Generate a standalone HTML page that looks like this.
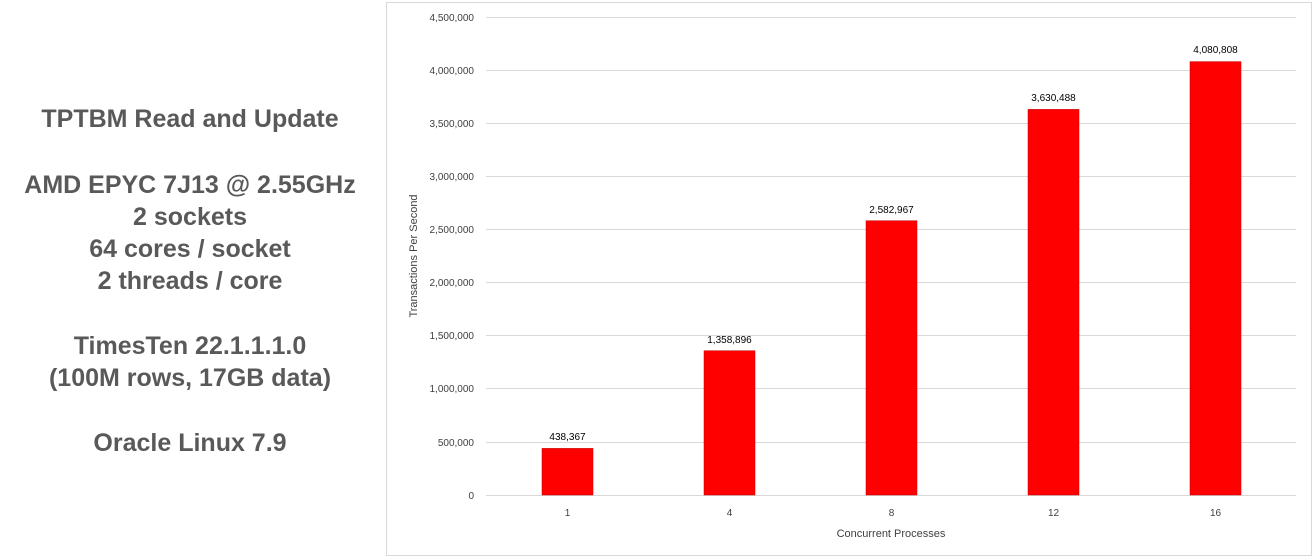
<!DOCTYPE html>
<html><head><style>
body{margin:0;width:1314px;height:558px;background:#fff;position:relative;overflow:hidden;font-family:"Liberation Sans",sans-serif}
.l{position:absolute;left:0;width:380px;text-align:center;font-weight:bold;color:#595959;font-size:25px;line-height:32px}
</style></head><body>
<div class="l" style="top:103px">TPTBM Read and Update</div>
<div class="l" style="top:169px">AMD EPYC 7J13 @ 2.55GHz<br>2 sockets<br>64 cores / socket<br>2 threads / core</div>
<div class="l" style="top:330px">TimesTen 22.1.1.1.0<br>(100M rows, 17GB data)</div>
<div class="l" style="top:427px">Oracle Linux 7.9</div>
<svg style="position:absolute;left:0;top:0" width="1314" height="558" font-family="Liberation Sans, sans-serif">
<rect x="386.5" y="2.5" width="925" height="553" fill="#fff" stroke="#d9d9d9"/>
<g stroke="#d9d9d9" stroke-width="1">
<line x1="486" x2="1296" y1="17.5" y2="17.5"/><line x1="486" x2="1296" y1="70.5" y2="70.5"/>
<line x1="486" x2="1296" y1="123.5" y2="123.5"/><line x1="486" x2="1296" y1="176.5" y2="176.5"/>
<line x1="486" x2="1296" y1="229.5" y2="229.5"/><line x1="486" x2="1296" y1="282.5" y2="282.5"/>
<line x1="486" x2="1296" y1="335.5" y2="335.5"/><line x1="486" x2="1296" y1="388.5" y2="388.5"/>
<line x1="486" x2="1296" y1="442.5" y2="442.5"/><line x1="486" x2="1296" y1="495.5" y2="495.5"/>
</g>
<g font-size="10" fill="#404040" text-anchor="end">
<text x="474" y="21">4,500,000</text><text x="474" y="74">4,000,000</text><text x="474" y="127">3,500,000</text>
<text x="474" y="180">3,000,000</text><text x="474" y="233">2,500,000</text><text x="474" y="286">2,000,000</text>
<text x="474" y="339">1,500,000</text><text x="474" y="392">1,000,000</text><text x="474" y="446">500,000</text>
<text x="474" y="499">0</text>
</g>
<g fill="#ff0000" stroke="#c00000" stroke-width="0.5">
<rect x="542" y="448.4" width="51" height="46.6"/>
<rect x="704" y="350.7" width="51" height="144.3"/>
<rect x="866" y="220.7" width="51" height="274.3"/>
<rect x="1028" y="109.4" width="51" height="385.6"/>
<rect x="1190" y="61.6" width="51" height="433.4"/>
</g>
<g font-size="10" fill="#000" text-anchor="middle">
<text x="567.5" y="440">438,367</text><text x="729.5" y="343">1,358,896</text>
<text x="891.5" y="213">2,582,967</text><text x="1053.5" y="101">3,630,488</text><text x="1215.5" y="53">4,080,808</text>
</g>
<g font-size="10" fill="#404040" text-anchor="middle">
<text x="567.5" y="516">1</text><text x="729.5" y="516">4</text><text x="891.5" y="516">8</text>
<text x="1053.5" y="516">12</text><text x="1215.5" y="516">16</text>
<text x="891" y="537" font-size="11">Concurrent Processes</text>
<text transform="translate(417,256) rotate(-90)" font-size="11">Transactions Per Second</text>
</g>
</svg>
</body></html>
